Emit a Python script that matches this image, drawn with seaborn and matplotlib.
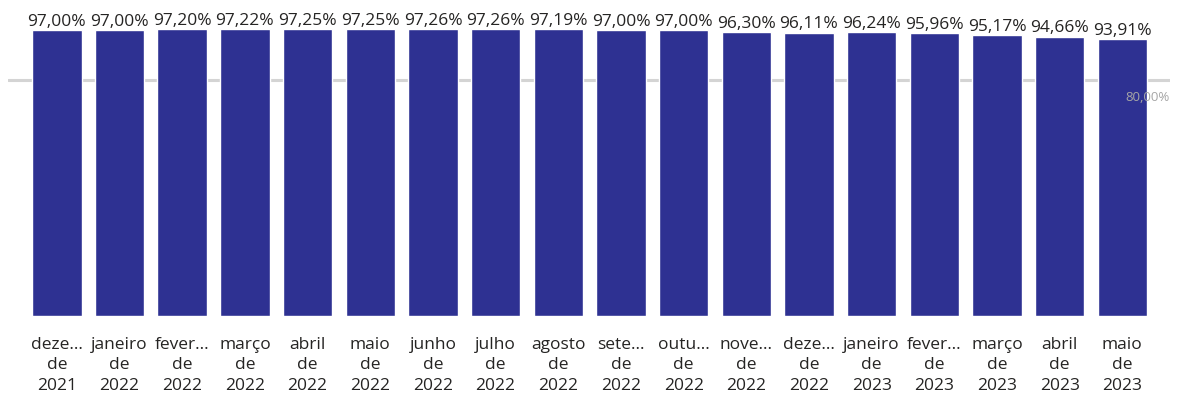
import matplotlib
matplotlib.use("Agg")
import matplotlib.pyplot as plt
import pandas as pd
import seaborn as sns

# Data
months = ["deze...\nde\n2021", "janeiro\nde\n2022", "fever...\nde\n2022", "março\nde\n2022",
          "abril\nde\n2022", "maio\nde\n2022", "junho\nde\n2022", "julho\nde\n2022",
          "agosto\nde\n2022", "sete...\nde\n2022", "outu...\nde\n2022", "nove...\nde\n2022",
          "deze...\nde\n2022", "janeiro\nde\n2023", "fever...\nde\n2023", "março\nde\n2023",
          "abril\nde\n2023", "maio\nde\n2023"]
values = [97.00, 97.00, 97.20, 97.22, 97.25, 97.25, 97.26, 97.26, 97.19,
          97.00, 97.00, 96.30, 96.11, 96.24, 95.96, 95.17, 94.66, 93.91]
target = 80.0

df = pd.DataFrame({"mes": months, "valor": values})

sns.set_style("white")
plt.rcParams["font.family"] = ["Open Sans", "DejaVu Sans"]

fig = plt.figure(figsize=(11.78, 4.06), dpi=100)
ax = fig.add_axes([0.0068, 0.219, 0.9864, 0.781])

sns.barplot(data=df, x="mes", y="valor", color="#2E3192", saturation=1, width=0.79, ax=ax)

# reference line
ax.axhline(target, color="#d4d4d4", lw=2.2, zorder=0.5)
ax.text(len(values) - 0.25, target - 3.4, f"{target:.2f}".replace(".", ",") + "%",
        ha="right", va="top", fontsize=9.5, color="#a6a6a6")

labels = [f"{v:.2f}".replace(".", ",") + "%" for v in values]
ax.bar_label(ax.containers[0], labels=labels, padding=1.0, fontsize=12.5, color="#252423")

ax.set_xlim(-0.78, len(values) - 0.24)
ax.set_ylim(0, 107.5)
ax.set_xlabel("")
ax.set_ylabel("")
ax.set_yticks([])
ax.tick_params(axis="x", length=0, pad=14, labelsize=12.5, labelcolor="#252423")
for t in ax.get_xticklabels():
    t.set_linespacing(1.38)
sns.despine(ax=ax, left=True, bottom=True)

fig.savefig("out.png", dpi=100)
